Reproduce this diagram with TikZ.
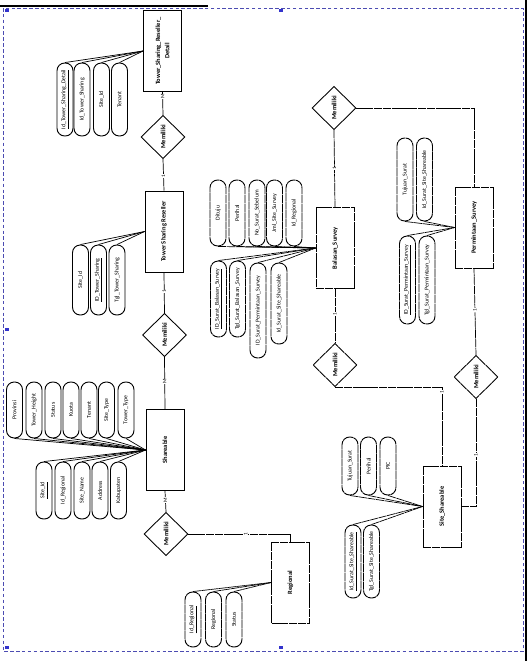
\documentclass[tikz,border=0pt]{standalone}
\usepackage{fontspec}
\setmainfont{Carlito}
\usepackage{graphicx}
\usetikzlibrary{shapes.geometric}
\newcommand{\vtxt}[1]{\rotatebox{90}{#1}}

\begin{document}
\begin{tikzpicture}[x=0.03cm,y=-0.03cm,line width=0.6pt,
  ent/.style={draw,line width=0.75pt,minimum width=1.14cm,minimum height=2.43cm,inner sep=0pt,font=\fontsize{5.5}{6.5}\selectfont\bfseries},
  rel/.style={draw,diamond,line width=0.75pt,minimum width=1.32cm,minimum height=1.3cm,inner sep=0pt,font=\fontsize{5.6}{6}\selectfont\bfseries},
  att/.style={draw,line width=0.8pt,rounded corners=2.3mm,minimum width=0.48cm,inner sep=0pt,font=\fontsize{5}{5.5}\selectfont},
  card/.style={fill=white,inner sep=0.4pt,font=\fontsize{4.5}{5}\selectfont},
  broken/.style={dash pattern=on 7pt off 0.5pt}]
  \useasboundingbox (0,0) rectangle (529,661);
  % frame of the scan
  \draw[blue!40!gray,densely dashed,thin] (3,8) rectangle (523,651);
  \draw[line width=1pt] (0,6) -- (208,6);
  \draw[line width=1.5pt] (526,0) -- (526,661);
  \foreach \p in {(7,10),(281,10),(7,329),(7,647),(281,647)}
    \fill[blue!60!gray] \p +(-2,-1.5) rectangle +(2,1.5);

  % entities
  \node[ent] (tsrd) at (162.5,51) {\vtxt{\shortstack{Tower\_Sharing\_Reseller\_\\Detail}}};
  \node[ent] (tsr) at (164,231.5) {\vtxt{Tower Sharing Reseller}};
  \node[ent] (sh) at (165,450) {\vtxt{Shareable}};
  \node[ent,broken] (reg) at (290.5,582.5) {\vtxt{Regional}};
  \node[ent,broken] (bal) at (335,248) {\vtxt{Balasan\_Survey}};
  \node[ent,broken] (perm) at (474,227.5) {\vtxt{Permintaan\_Survey}};
  \node[ent,broken] (ss) at (442,506.5) {\vtxt{Site\_Shareable}};

  % relationships
  \node[rel] (r1) at (163,137) {\vtxt{Memiliki}};
  \node[rel] (r2) at (164.5,335) {\vtxt{Memiliki}};
  \node[rel] (r3) at (166,534) {\vtxt{Memiliki}};
  \node[rel] (r4) at (334,108) {\vtxt{Memiliki}};
  \node[rel,broken] (r5) at (335,365) {\vtxt{Memiliki}};
  \node[rel,broken] (r6) at (476,377) {\vtxt{Memiliki}};

  \draw (tsrd.south) -- node[card,pos=0.2]{\vtxt{M}} (r1.north);
  \draw (r1.south) -- node[card,pos=0.53]{\vtxt{1}} (tsr.north);
  \draw (tsr.south) -- node[card,pos=0.47]{\vtxt{1}} (r2.north);
  \draw (r2.south) -- node[card,pos=0.47]{\vtxt{M}} (sh.north);
  \draw (sh.south) -- node[card,pos=0.43]{\vtxt{M}} (r3.north);
  \draw[broken] (r3.east) -| node[card,pos=0.28]{\vtxt{1}} (reg.north);
  \draw[broken] (r4.east) -| (perm.north);
  \draw[broken] (r4.south) -- node[card,pos=0.5]{\vtxt{1}} (bal.north);
  \draw[broken] (bal.south) -- node[card,pos=0.46]{\vtxt{1}} (r5.north);
  \draw[broken] (r5.south) -| node[card,pos=0.53]{\vtxt{1}} (ss.north);
  \draw[broken] (perm.south) -- node[card,pos=0.48]{\vtxt{1}} (r6.north);
  \draw[broken] (r6.south) |- node[card,pos=0.26]{\vtxt{1}} (ss.east);

  % attributes Tower_Sharing_Reseller_Detail
  \foreach \n/\x/\lab in {1/65/\underline{Id\_Tower\_Sharing\_Detail},2/82/Id\_Tower\_Sharing,3/101.5/Site\_Id,4/119.5/Tenant}{
    \node[att,minimum height=2.19cm] (tsrd\n) at (\x,99.5) {\vtxt{\lab}};
    \draw (tsrd\n.north) -- (tsrd.west);
  }
  % attributes Tower Sharing Reseller
  \foreach \n/\x/\lab in {1/80.5/Site\_Id,2/98.5/\underline{ID\_Tower\_Sharing},3/117/Tgl\_Tower\_Sharing}{
    \node[att,minimum height=2.1cm] (tsr\n) at (\x,280) {\vtxt{\lab}};
    \draw (tsr\n.north) -- (tsr.west);
  }
  % attributes Shareable
  \foreach \n/\x/\lab in {1/14.5/Provinsi,2/34/Tower\_Height,3/53/Status,4/71/Kuota,5/89/Tenant,6/106.5/Site\_Type,7/126/Tower\_Type}{
    \node[att,minimum height=1.68cm] (shT\n) at (\x,410) {\vtxt{\lab}};
    \draw (shT\n.south) -- (sh.west);
  }
  \foreach \n/\x/\lab in {1/44/\underline{Site\_Id},2/63/Id\_Regional,3/82/Site\_Name,4/100/Address,5/118.5/Kabupaten}{
    \node[att,minimum height=1.71cm] (shB\n) at (\x,490.5) {\vtxt{\lab}};
    \draw (shB\n.north) -- (sh.west);
  }
  % attributes Regional
  \foreach \n/\x/\lab in {1/193/\underline{Id\_Regional},2/213.5/Regional,3/234/Status}{
    \node[att,broken,minimum height=1.65cm] (reg\n) at (\x,619.5) {\vtxt{\lab}};
    \draw[broken] (reg\n.north) -- (reg.west);
  }
  % attributes Balasan_Survey
  \foreach \n/\x/\lab in {1/218/Dituju,2/237/Perihal,3/257/No\_Surat\_Sebelum,4/274.5/Jml\_Site\_Survey,5/294/Id\_Regional}{
    \node[att,broken,minimum height=1.98cm] (balT\n) at (\x,213) {\vtxt{\lab}};
    \draw[broken] (balT\n.south) -- (bal.west);
  }
  \foreach \n/\x/\y/\h/\lab in {1/218.5/299/2.28/\underline{ID\_Surat\_Balasan\_Survey},2/237.5/299/2.28/Tgl\_Surat\_Balasan\_Survey,3/258/310.5/2.85/ID\_Surat\_Permintaan\_Survey,4/279/303.5/2.43/Id\_Surat\_Site\_Shareable}{
    \node[att,broken,minimum height=\h cm] (balB\n) at (\x,\y) {\vtxt{\lab}};
    \draw[broken] (balB\n.north) -- (bal.west);
  }
  % attributes Permintaan_Survey
  \foreach \n/\x/\lab in {1/405/Tujuan\_Surat,2/424.5/Id\_Surat\_Site\_Shareable}{
    \node[att,broken,minimum height=2.49cm] (permT\n) at (\x,179.5) {\vtxt{\lab}};
    \draw[broken] (permT\n.south) -- (perm.west);
  }
  \foreach \n/\x/\lab in {1/407.5/\underline{ID\_Surat\_Permintaan\_Survey},2/427/Tgl\_Surat\_Permintaan\_Survey}{
    \node[att,broken,minimum height=2.64cm] (permB\n) at (\x,280) {\vtxt{\lab}};
    \draw[broken] (permB\n.north) -- (perm.west);
  }
  % attributes Site_Shareable
  \foreach \n/\x/\lab in {1/350/Tujuan\_Surat,2/368.5/Perihal,3/388/PIC}{
    \node[att,broken,minimum height=1.74cm] (ssT\n) at (\x,466) {\vtxt{\lab}};
    \draw[broken] (ssT\n.south) -- (ss.west);
  }
  \foreach \n/\x/\lab in {1/353/\underline{Id\_Surat\_Site\_Shareable},2/371.5/Tgl\_Surat\_Site\_Shareable}{
    \node[att,broken,minimum height=2.19cm] (ssB\n) at (\x,561.5) {\vtxt{\lab}};
    \draw[broken] (ssB\n.north) -- (ss.west);
  }
\end{tikzpicture}
\end{document}
